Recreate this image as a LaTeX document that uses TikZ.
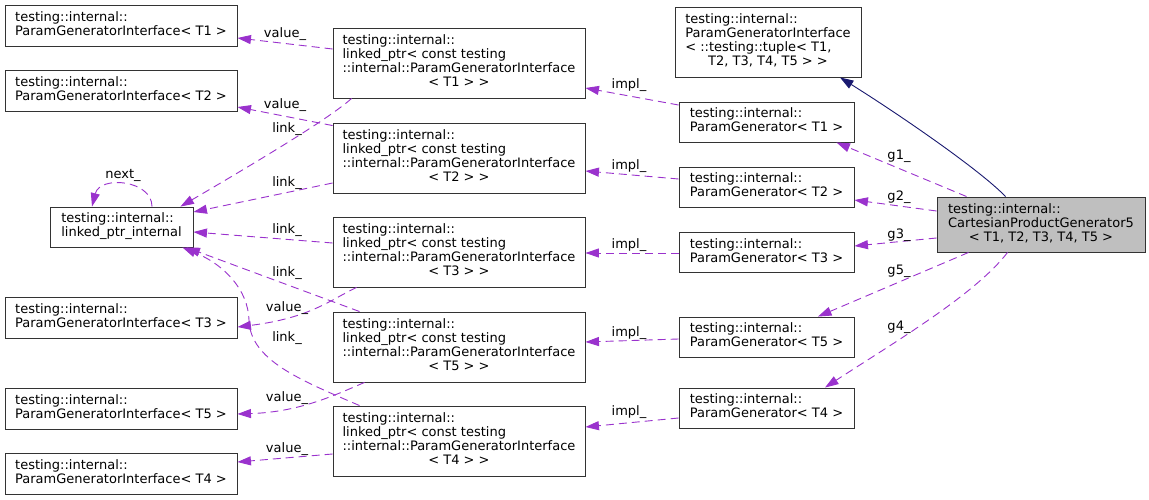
\documentclass[tikz,border=0pt]{standalone}
\usepackage{fontspec}
\setmainfont{DejaVu Sans}
\usetikzlibrary{arrows.meta}
\definecolor{purp}{HTML}{9A32CD}
\definecolor{inhblue}{HTML}{191970}
\definecolor{boxgray}{HTML}{BFBFBF}
\newcommand{\txtfont}{\fontsize{13}{14}\selectfont}
\newcommand{\lines}[1]{\begin{tabular}{@{}l@{}}#1\end{tabular}}
\newcommand{\lastc}[1]{\multicolumn{1}{@{}c@{}}{#1}}
\begin{document}
\begin{tikzpicture}[x=1pt,y=-1pt,
  box/.style={draw=black!80, line width=0.9pt, fill=white, inner sep=0pt, font=\txtfont},
  pgibox/.style={box, minimum width=232pt, minimum height=41pt},
  lpbox/.style={box, minimum width=252pt, minimum height=70pt},
  pgbox/.style={box, minimum width=175pt, minimum height=40pt},
  lbl/.style={font=\txtfont, inner sep=0pt, text=black},
  rel/.style={draw=purp, line width=0.9pt, dash pattern=on 8pt off 5pt, -{Triangle[length=13.5pt,width=9pt]}},
  inh/.style={draw=inhblue, line width=0.9pt, -{Triangle[length=13.5pt,width=9pt]}}
]
\useasboundingbox (0,0) rectangle (1149,500);
\fill[white] (0,0) rectangle (1149,500);

% left column
\node[pgibox] (pgi1) at (121,25.5) {\lines{testing::internal::\\ParamGeneratorInterface< T1 >}};
\node[pgibox] (pgi2) at (121,91) {\lines{testing::internal::\\ParamGeneratorInterface< T2 >}};
\node[box, minimum width=143pt, minimum height=40pt] (lpi) at (121.5,227) {\lines{testing::internal::\\linked\_ptr\_internal}};
\node[pgibox] (pgi3) at (121,318) {\lines{testing::internal::\\ParamGeneratorInterface< T3 >}};
\node[pgibox] (pgi5) at (121,409) {\lines{testing::internal::\\ParamGeneratorInterface< T5 >}};
\node[pgibox] (pgi4) at (121,474) {\lines{testing::internal::\\ParamGeneratorInterface< T4 >}};

% linked_ptr column
\node[lpbox] (lp1) at (459,63) {\lines{testing::internal::\\linked\_ptr< const testing\\::internal::ParamGeneratorInterface\\\lastc{< T1 > >}}};
\node[lpbox] (lp2) at (459,158) {\lines{testing::internal::\\linked\_ptr< const testing\\::internal::ParamGeneratorInterface\\\lastc{< T2 > >}}};
\node[lpbox] (lp3) at (459,252) {\lines{testing::internal::\\linked\_ptr< const testing\\::internal::ParamGeneratorInterface\\\lastc{< T3 > >}}};
\node[lpbox] (lp5) at (459,347) {\lines{testing::internal::\\linked\_ptr< const testing\\::internal::ParamGeneratorInterface\\\lastc{< T5 > >}}};
\node[lpbox] (lp4) at (459,441) {\lines{testing::internal::\\linked\_ptr< const testing\\::internal::ParamGeneratorInterface\\\lastc{< T4 > >}}};

% ParamGenerator column
\node[box, minimum width=186pt, minimum height=70pt] (pgt) at (768,42) {\lines{testing::internal::\\ParamGeneratorInterface\\< ::testing::tuple< T1,\\\lastc{T2, T3, T4, T5 > >}}};
\node[pgbox] (pg1) at (766.5,122) {\lines{testing::internal::\\ParamGenerator< T1 >}};
\node[pgbox] (pg2) at (766.5,187) {\lines{testing::internal::\\ParamGenerator< T2 >}};
\node[pgbox] (pg3) at (766.5,252.5) {\lines{testing::internal::\\ParamGenerator< T3 >}};
\node[pgbox] (pg5) at (766.5,337) {\lines{testing::internal::\\ParamGenerator< T5 >}};
\node[pgbox] (pg4) at (766.5,408) {\lines{testing::internal::\\ParamGenerator< T4 >}};

% main class
\node[box, fill=boxgray, minimum width=208pt, minimum height=55pt] (cpg) at (1041,224.5) {\lines{testing::internal::\\CartesianProductGenerator5\\\lastc{< T1, T2, T3, T4, T5 >}}};

% value_ edges
\draw[rel] ([yshift=14pt]lp1.west) -- ([yshift=-12.5pt]pgi1.east);
\draw[rel] ([yshift=-3pt]lp2.north west) -- ([yshift=-16pt]pgi2.east);
\draw[rel] ([xshift=24pt]lp3.south west) .. controls (330,300) and (310,318) .. ([yshift=-9pt]pgi3.east);
\draw[rel] ([xshift=32pt]lp5.south west) .. controls (335,395) and (300,412) .. ([yshift=-5pt]pgi5.east);
\draw[rel] ([yshift=-13pt]lp4.west) -- ([yshift=12pt]pgi4.east);

% link_ edges
\draw[rel] ([xshift=19pt]lp1.south west) .. controls (330,118) and (260,160) .. ([xshift=-13pt]lpi.north east);
\draw[rel] ([yshift=-25pt]lp2.west) -- ([yshift=15pt]lpi.east);
\draw[rel] ([yshift=9pt]lp3.west) -- ([yshift=-5pt]lpi.east);
\draw[rel] ([xshift=27pt]lp5.north west) -- ([xshift=-7pt]lpi.south east);
\draw[rel] ([xshift=27pt]lp4.north west) .. controls (300,380) and (250,360) .. (249,320) .. controls (248,290) and (225,265) .. ([xshift=-11pt]lpi.south east);

% next_ self loop
\draw[rel] ([xshift=30.5pt]lpi.north) .. controls (152,180) and (100,175) .. ([xshift=-29.5pt]lpi.north);

% impl_ edges
\draw[rel] ([yshift=17pt]pg1.west) -- ([yshift=-25pt]lp1.east);
\draw[rel] ([yshift=8pt]pg2.west) -- ([yshift=-13pt]lp2.east);
\draw[rel] ([yshift=-0.5pt]pg3.west) -- ([yshift=-1pt]lp3.east);
\draw[rel] ([yshift=-2pt]pg5.west) -- ([yshift=5pt]lp5.east);
\draw[rel] ([yshift=-10pt]pg4.west) -- ([yshift=14pt]lp4.east);

% g edges
\draw[rel] ([xshift=30pt]cpg.north west) -- ([xshift=-18pt]pg1.south east);
\draw[rel] ([yshift=13.5pt]cpg.west) -- ([yshift=-13pt]pg2.east);
\draw[rel] ([yshift=-13.5pt]cpg.west) -- ([yshift=6.5pt]pg3.east);
\draw[rel] ([xshift=32pt]cpg.south west) -- ([xshift=51.5pt]pg5.north);
\draw[rel] ([xshift=71pt]cpg.south west) .. controls (975,295) and (890,345) .. ([xshift=58.5pt]pg4.north);

% inheritance
\draw[inh] ([xshift=69pt]cpg.north west) .. controls (980,170) and (900,115) .. ([xshift=72pt]pgt.south);

% labels
\node[lbl] (lv1) at (285,34) {value\_};
\node[lbl] (lv2) at (285,105) {value\_};
\node[lbl] (lv3) at (287,308) {value\_};
\node[lbl] (lv5) at (287,398) {value\_};
\node[lbl] (lv4) at (287,449) {value\_};
\node[lbl] (ll1) at (287,129) {link\_};
\node[lbl] (ll2) at (287,183) {link\_};
\node[lbl] (ll3) at (287,230) {link\_};
\node[lbl] (ll5) at (287,273) {link\_};
\node[lbl] (ll4) at (287,338) {link\_};
\node[lbl] (lnext) at (123,175) {next\_};
\node[lbl] (li1) at (629,85) {impl\_};
\node[lbl] (li2) at (629,166) {impl\_};
\node[lbl] (li3) at (629,245) {impl\_};
\node[lbl] (li5) at (629,333) {impl\_};
\node[lbl] (li4) at (629,412) {impl\_};
\node[lbl] (lg1) at (899,156) {g1\_};
\node[lbl] (lg2) at (899,197) {g2\_};
\node[lbl] (lg3) at (899,235) {g3\_};
\node[lbl] (lg5) at (899,271) {g5\_};
\node[lbl] (lg4) at (899,327) {g4\_};
\end{tikzpicture}
\end{document}
